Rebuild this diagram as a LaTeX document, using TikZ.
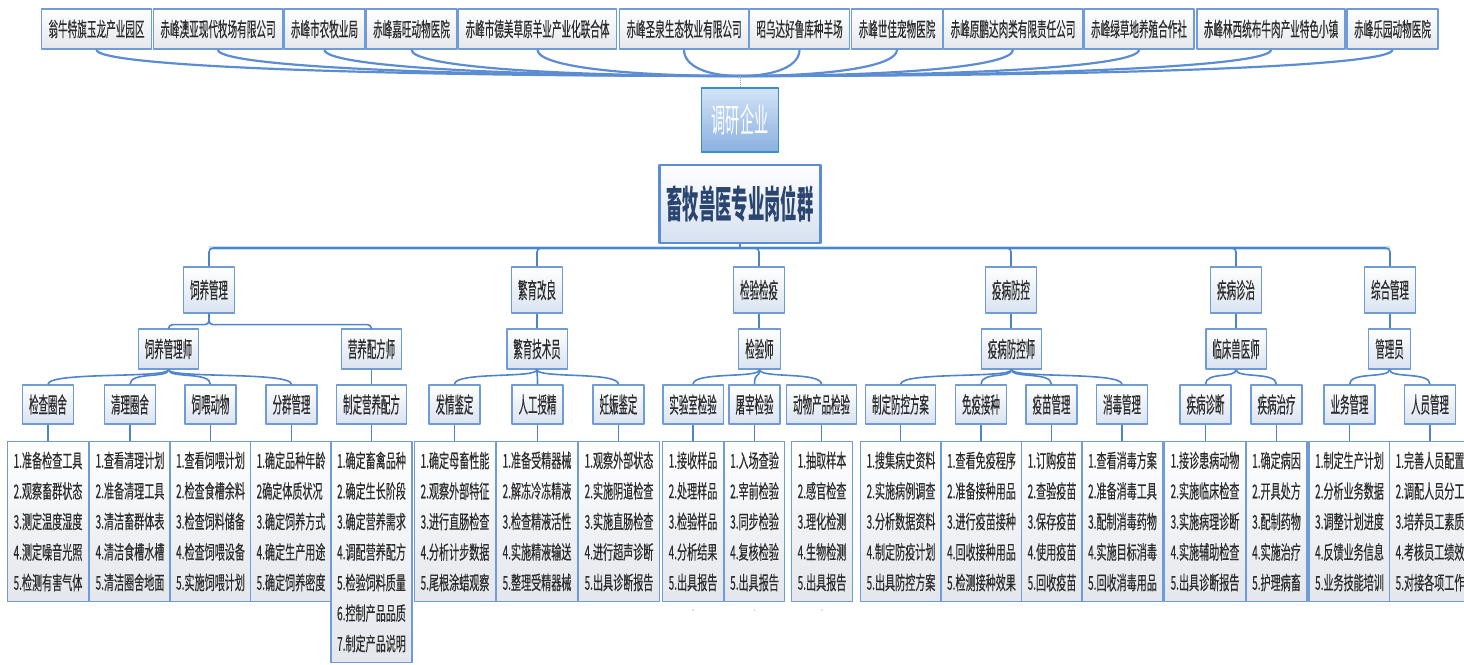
\documentclass[tikz,border=0pt]{standalone}
\usepackage{fontspec}
\usepackage{tikz}
\usetikzlibrary{positioning,calc}
\newfontfamily\ffont[FakeStretch=0.48, FakeBold=0.25]{Noto Sans CJK SC}
\newfontfamily\hfont[FakeStretch=0.43, FakeBold=0.25]{Noto Sans CJK SC}
\newfontfamily\lfont[FakeStretch=0.53, FakeBold=0.25]{Noto Sans CJK SC}
\newfontfamily\tfont[FakeStretch=0.43]{Noto Sans CJK SC}
\definecolor{boxblue}{HTML}{6F9BD8}
\definecolor{lnblue}{HTML}{4F83CC}
\definecolor{firmfill}{HTML}{E4E7EC}
\definecolor{hdfill}{HTML}{D9E3F0}
\definecolor{lsfill}{HTML}{E3E6EB}
\definecolor{txtgray}{HTML}{2B2B2B}
\definecolor{yqtop}{HTML}{D2E3F6}
\definecolor{yqbot}{HTML}{8AB0E0}
\definecolor{yqline}{HTML}{3A8FC3}
\definecolor{gwline}{HTML}{5C8DD3}
\definecolor{gwbot}{HTML}{D5E0EF}
\definecolor{gwtext}{HTML}{2A4670}
\definecolor{halo}{HTML}{BFE3F5}

\begin{document}
\begin{tikzpicture}[x=1pt, y=-1pt, line join=round]
\tikzstyle{firm}=[draw=boxblue, line width=1.5pt, top color=white, bottom color=firmfill, text=txtgray, font=\ffont\fontsize{20}{20}\selectfont, minimum height=40pt, inner xsep=7pt, inner ysep=0pt]
\tikzstyle{grp}=[draw=boxblue, line width=1.3pt, top color=white, bottom color=hdfill, text=txtgray, font=\hfont\fontsize{22}{22}\selectfont, inner xsep=6.5pt, inner ysep=0pt]
\tikzstyle{cat}=[grp, minimum height=46pt]
\tikzstyle{role}=[grp, minimum height=40pt]
\tikzstyle{task}=[grp, minimum height=39pt]
\tikzstyle{duty}=[draw=boxblue, line width=1.3pt, top color=white, bottom color=lsfill, text=txtgray, font=\lfont\fontsize{19}{30.5}\selectfont, align=left, anchor=north, inner xsep=6pt, inner ysep=10pt]
\tikzstyle{link}=[draw=lnblue, line width=1.6pt, rounded corners=4pt]
\tikzstyle{twig}=[draw=gwline, line width=2.2pt]
\tikzstyle{bow}=[draw=lnblue, line width=1.6pt, to path={.. controls +(0,9) and +(0,-13) .. (\tikztotarget)}]

\useasboundingbox (0,0) rectangle (1464,664);

% survey firms
\node[firm] (c1)  at (96.5,29)  {翁牛特旗玉龙产业园区};
\node[firm] (c2)  at (218,29)   {赤峰澳亚现代牧场有限公司};
\node[firm] (c3)  at (324.5,29) {赤峰市农牧业局};
\node[firm] (c4)  at (411.5,29) {赤峰嘉旺动物医院};
\node[firm] (c5)  at (537.5,29) {赤峰市德美草原羊业产业化联合体};
\node[firm] (c6)  at (684,29)   {赤峰圣泉生态牧业有限公司};
\node[firm] (c7)  at (799.5,29) {昭乌达好鲁库种羊场};
\node[firm] (c8)  at (897,29)   {赤峰世佳宠物医院};
\node[firm] (c9)  at (1013,29)  {赤峰原鹏达肉类有限责任公司};
\node[firm] (c10) at (1139,29)  {赤峰绿草地养殖合作社};
\node[firm] (c11) at (1271,29)  {赤峰林西统布牛肉产业特色小镇};
\node[firm] (c12) at (1392.5,29){赤峰乐园动物医院};

\coordinate (m) at (740,76);
\foreach \i/\d in {1/-386, 2/-313, 3/-249, 4/-197, 5/-121, 6/-34, 7/36, 8/94, 9/164, 10/240, 11/319, 12/391}
  \draw[twig] (c\i.south) .. controls +(0,16) and +(\d,0) .. (m);

\node[draw=yqline, line width=1.4pt, top color=yqtop, bottom color=yqbot, text=white, font=\tfont\fontsize{33}{33}\selectfont, minimum width=77pt, minimum height=64pt] (yq) at (740,120) {调研企业};
\draw[densely dotted, line width=1pt, lnblue!70] (m) -- (yq.north);

\node[draw=gwline, line width=2.6pt, top color=white, bottom color=gwbot, text=gwtext, font=\tfont\bfseries\fontsize{38}{38}\selectfont, minimum width=161pt, minimum height=78pt] (gw) at (740,204) {畜牧兽医专业岗位群};

% categories
\node[cat] (a1) at (209,290)  {饲养管理};
\node[cat] (a2) at (537,290)  {繁育改良};
\node[cat] (a3) at (759,290)  {检验检疫};
\node[cat] (a4) at (1011,290) {疫病防控};
\node[cat] (a5) at (1236,290) {疾病诊治};
\node[cat] (a6) at (1390,290) {综合管理};

\coordinate (hub) at (740,248);
\draw[halo, line width=4pt] (a1.north |- hub) -- (a6.north |- hub);
\draw[link] (gw) -- (hub);
\foreach \n in {a1,a2,a3,a4,a5,a6}
  \draw[link] (hub) -| (\n);

% roles
\node[role] (r1) at (168.5,349)  {饲养管理师};
\node[role] (r2) at (371.5,349)  {营养配方师};
\node[role] (r3) at (537,349)    {繁育技术员};
\node[role] (r4) at (759.5,349)  {检验师};
\node[role] (r5) at (1011.5,349) {疫病防控师};
\node[role] (r6) at (1236,349)   {临床兽医师};
\node[role] (r7) at (1389.5,349) {管理员};

\draw[link] (a1.south) -- ++(0,11) -| (r1.north);
\draw[link] (a1.south) -- ++(0,11) -| (r2.north);
\draw[link] (a2.south) -- (a2.south |- r3.north);
\draw[link] (a3.south) -- (a3.south |- r4.north);
\draw[link] (a4.south) -- (a4.south |- r5.north);
\draw[link] (a5.south) -- (a5.south |- r6.north);
\draw[link] (a6.south) -- (a6.south |- r7.north);

% tasks
\node[task] (t1)  at (48,404.5)     {检查圈舍};
\node[task] (t2)  at (130,404.5)    {清理圈舍};
\node[task] (t3)  at (210.5,404.5)  {饲喂动物};
\node[task] (t4)  at (291.5,404.5)  {分群管理};
\node[task] (t5)  at (371.5,404.5)  {制定营养配方};
\node[task] (t6)  at (454.5,404.5)  {发情鉴定};
\node[task] (t7)  at (537.5,404.5)  {人工授精};
\node[task] (t8)  at (618.5,404.5)  {妊娠鉴定};
\node[task] (t9)  at (693,404.5)    {实验室检验};
\node[task] (t10) at (754.5,404.5)  {屠宰检验};
\node[task] (t11) at (821.5,404.5)  {动物产品检验};
\node[task] (t12) at (900.5,404.5)  {制定防控方案};
\node[task] (t13) at (981,404.5)    {免疫接种};
\node[task] (t14) at (1051.5,404.5) {疫苗管理};
\node[task] (t15) at (1122,404.5)   {消毒管理};
\node[task] (t16) at (1205.5,404.5) {疾病诊断};
\node[task] (t17) at (1276.5,404.5) {疾病治疗};
\node[task] (t18) at (1349.5,404.5) {业务管理};
\node[task] (t19) at (1430,404.5)   {人员管理};

\path (r1.south) edge[bow] (t1.north) edge[bow] (t2.north) edge[bow] (t3.north) edge[bow] (t4.north);
\draw[link] (r2.south) -- (r2.south |- t5.north);
\path (r3.south) edge[bow] (t6.north) edge[bow] (t7.north) edge[bow] (t8.north);
\path (r4.south) edge[bow] (t9.north) edge[bow] (t10.north) edge[bow] (t11.north);
\path (r5.south) edge[bow] (t12.north) edge[bow] (t13.north) edge[bow] (t14.north) edge[bow] (t15.north);
\path (r6.south) edge[bow] (t16.north) edge[bow] (t17.north);
\path (r7.south) edge[bow] (t18.north) edge[bow] (t19.north);

% duties
\node[duty] (l1)  at (48,441)     {1.准备检查工具\\2.观察畜群状态\\3.测定温度湿度\\4.测定噪音光照\\5.检测有害气体};
\node[duty] (l2)  at (130,441)    {1.查看清理计划\\2.准备清理工具\\3.清洁畜群体表\\4.清洁食槽水槽\\5.清洁圈舍地面};
\node[duty] (l3)  at (210.5,441)  {1.查看饲喂计划\\2.检查食槽余料\\3.检查饲料储备\\4.检查饲喂设备\\5.实施饲喂计划};
\node[duty] (l4)  at (291,441)    {1.确定品种年龄\\2确定体质状况\\3.确定饲养方式\\4.确定生产用途\\5.确定饲养密度};
\node[duty] (l5)  at (371.5,441)  {1.确定畜禽品种\\2.确定生长阶段\\3.确定营养需求\\4.调配营养配方\\5.检验饲料质量\\6.控制产品品质\\7.制定产品说明};
\node[duty] (l6)  at (455,441)    {1.确定母畜性能\\2.观察外部特征\\3.进行直肠检查\\4.分析计步数据\\5.尾根涂蜡观察};
\node[duty] (l7)  at (537,441)    {1.准备受精器械\\2.解冻冷冻精液\\3.检查精液活性\\4.实施精液输送\\5.整理受精器械};
\node[duty] (l8)  at (619,441)    {1.观察外部状态\\2.实施阴道检查\\3.实施直肠检查\\4.进行超声诊断\\5.出具诊断报告};
\node[duty] (l9)  at (693,441)    {1.接收样品\\2.处理样品\\3.检验样品\\4.分析结果\\5.出具报告};
\node[duty] (l10) at (754.5,441)  {1.入场查验\\2.宰前检验\\3.同步检验\\4.复核检验\\5.出具报告};
\node[duty] (l11) at (822,441)    {1.抽取样本\\2.感官检查\\3.理化检测\\4.生物检测\\5.出具报告};
\node[duty] (l12) at (901,441)    {1.搜集病史资料\\2.实施病例调查\\3.分析数据资料\\4.制定防疫计划\\5.出具防控方案};
\node[duty] (l13) at (981.5,441)  {1.查看免疫程序\\2.准备接种用品\\3.进行疫苗接种\\4.回收接种用品\\5.检测接种效果};
\node[duty] (l14) at (1052,441)   {1.订购疫苗\\2.查验疫苗\\3.保存疫苗\\4.使用疫苗\\5.回收疫苗};
\node[duty] (l15) at (1122.5,441) {1.查看消毒方案\\2.准备消毒工具\\3.配制消毒药物\\4.实施目标消毒\\5.回收消毒用品};
\node[duty] (l16) at (1205,441)   {1.接诊患病动物\\2.实施临床检查\\3.实施病理诊断\\4.实施辅助检查\\5.出具诊断报告};
\node[duty] (l17) at (1276.5,441) {1.确定病因\\2.开具处方\\3.配制药物\\4.实施治疗\\5.护理病畜};
\node[duty] (l18) at (1349.5,441) {1.制定生产计划\\2.分析业务数据\\3.调整计划进度\\4.反馈业务信息\\5.业务技能培训};
\node[duty] (l19) at (1430,441)   {1.完善人员配置\\2.调配人员分工\\3.培养员工素质\\4.考核员工绩效\\5.对接各项工作};

\foreach \i in {1,...,19}
  \draw[link] (t\i.south) -- (t\i.south |- l\i.north);

% collapsed markers
\foreach \i in {9,10,11}
  \fill[gray!30] ($(l\i.south)+(0,8)$) circle (1.1pt);
\end{tikzpicture}
\end{document}
